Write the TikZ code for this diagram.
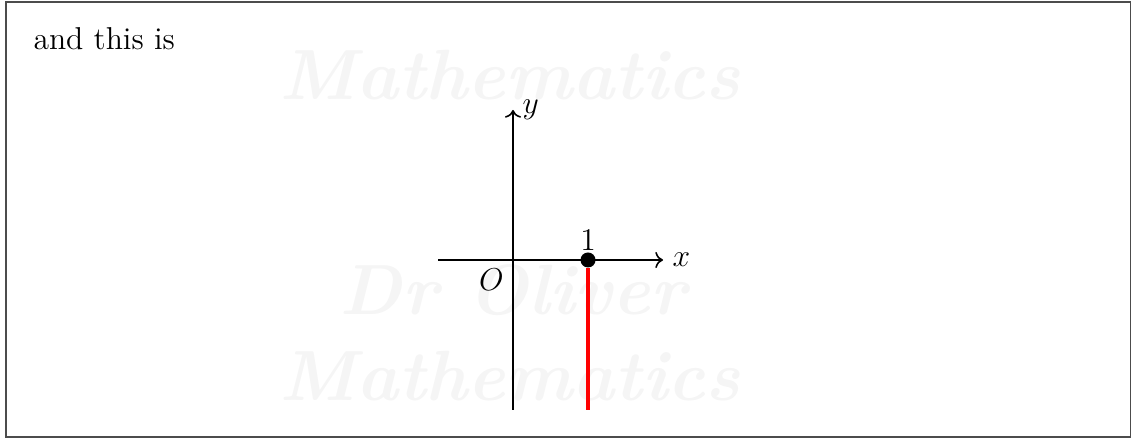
\documentclass[tikz,border=0pt]{standalone}
\usepackage{amsmath,amssymb}
\usepackage{tikz}
\usetikzlibrary{arrows.meta,positioning,calc}
\usepackage{xcolor}

\begin{document}
\begin{tikzpicture}[
    font=\large,
    axis/.style={semithick, ->},
    watermark/.style={black!4, font=\fontsize{27}{27}\selectfont\bfseries\itshape},
    dot/.style={circle, fill=black, inner sep=0pt, minimum size=0.2cm},
    redline/.style={red, ultra thick}
]
\useasboundingbox (-6.84,-2.3733) rectangle (8.24,3.4667);

% Frame
\draw[black!70, thin] (-6.76,-2.36) rectangle (8.227,3.44);

% Watermark
\node[watermark] (wm1) at (-0.04,2.47) {Mathematics};
\node[watermark] (wm2) at (0,-0.4) {Dr Oliver};
\node[watermark] (wm3) at (-0.04,-1.55) {Mathematics};

% Text
\node[anchor=base west, inner sep=0pt] (intro) at (-6.4,2.813) {and this is};

% Axes
\coordinate (O) at (0,0);
\coordinate (xmin) at (-1,0);
\coordinate (xmax) at (2,0);
\coordinate (ymin) at (0,-2);
\coordinate (ymax) at (0,2);
\draw[axis] (xmin) -- (xmax) node[right] (xlab) {$x$};
\draw[axis] (ymin) -- (ymax) node[right] (ylab) {$y$};
\node[below left] (olab) at (O) {$O$};

% Point and red line
\coordinate (foot) at (1,-2);
\node[dot] (one) at (1,0) {};
\node[above=-3pt of one] (onelab) {$1$};
\draw[redline] (one) -- (foot);

\end{tikzpicture}
\end{document}
